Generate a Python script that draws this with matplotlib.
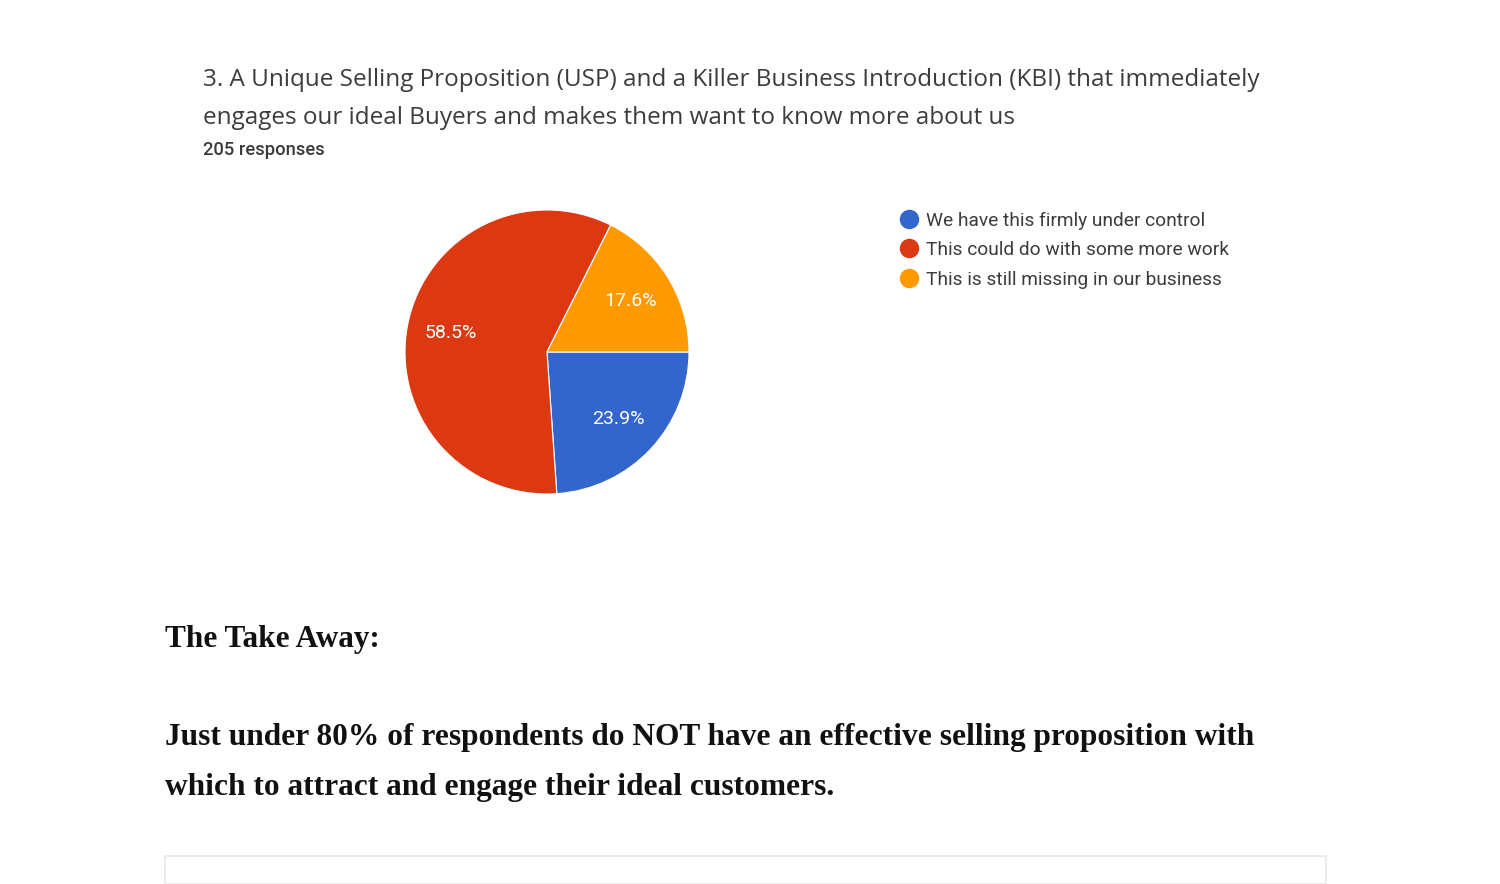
import matplotlib.pyplot as plt
from matplotlib.lines import Line2D
from matplotlib.patches import Rectangle

# === Данные ===
labels = ['We have this firmly under control',
          'This could do with some more work',
          'This is still missing in our business']
shares = [23.9, 58.5, 17.6]
colors = ['#3366CC', '#DC3912', '#FF9900']

title_lines = ['3. A Unique Selling Proposition (USP) and a Killer Business Introduction (KBI) that immediately',
               'engages our ideal Buyers and makes them want to know more about us']
responses = '205 responses'
takeaway_head = 'The Take Away:'
takeaway_lines = ['Just under 80% of respondents do NOT have an effective selling proposition with',
                  'which to attract and engage their ideal customers.']

W, H = 1500, 884
fig = plt.figure(figsize=(W / 100, H / 100), dpi=100)
fig.patch.set_facecolor('white')

def fx(px):
    return px / W

def fy(py):
    return 1 - py / H

# === Заголовок ===
fig.text(fx(203), fy(80), title_lines[0], fontsize=17.5, family='Open Sans', color='#3c3c3c', va='center')
fig.text(fx(203), fy(118), title_lines[1], fontsize=17.5, family='Open Sans', color='#3c3c3c', va='center')
fig.text(fx(203), fy(150), responses, fontsize=13.2, family='Roboto', weight='medium',
         color='#3a3a3a', va='center')

# === Круговая диаграмма ===
cx, cy, r = 547, 352, 142
ax = fig.add_axes([fx(cx - r), fy(cy + r), 2 * r / W, 2 * r / H])
wedges, texts, autotexts = ax.pie(
    shares, colors=colors, startangle=0, counterclock=False,
    autopct='%.1f%%', pctdistance=0.69,
    wedgeprops={'edgecolor': 'white', 'linewidth': 0.8},
    textprops={'color': 'white', 'fontsize': 14, 'family': 'Roboto'})
ax.set_xlim(-1, 1)
ax.set_ylim(-1, 1)
ax.set_aspect('auto')
ax.axis('off')

# === Легенда ===
handles = [Line2D([], [], marker='o', linestyle='', markersize=13,
                  markerfacecolor=c, markeredgecolor=c) for c in colors]
fig.legend(handles, labels, loc='upper left', bbox_to_anchor=(fx(890), fy(202)),
           frameon=False, handlelength=1.0, handletextpad=0.4,
           labelspacing=0.6, borderpad=0, labelcolor='#3c3c3c',
           prop={'family': 'Roboto', 'size': 13.8})

# === Вывод ===
fig.text(fx(165), fy(639), takeaway_head, fontsize=22.5, family='Liberation Serif',
         weight='bold', color='#111111', va='center')
fig.text(fx(165), fy(738), takeaway_lines[0], fontsize=22.6, family='Liberation Serif',
         weight='bold', color='#111111', va='center')
fig.text(fx(165), fy(788), takeaway_lines[1], fontsize=22.6, family='Liberation Serif',
         weight='bold', color='#111111', va='center')

# === Нижняя рамка ===
fig.add_artist(Rectangle((fx(165), 0), fx(1326) - fx(165), fy(856), transform=fig.transFigure,
                         facecolor='white', edgecolor='#ececec', linewidth=1.5))

fig.savefig('out.png', dpi=100)
